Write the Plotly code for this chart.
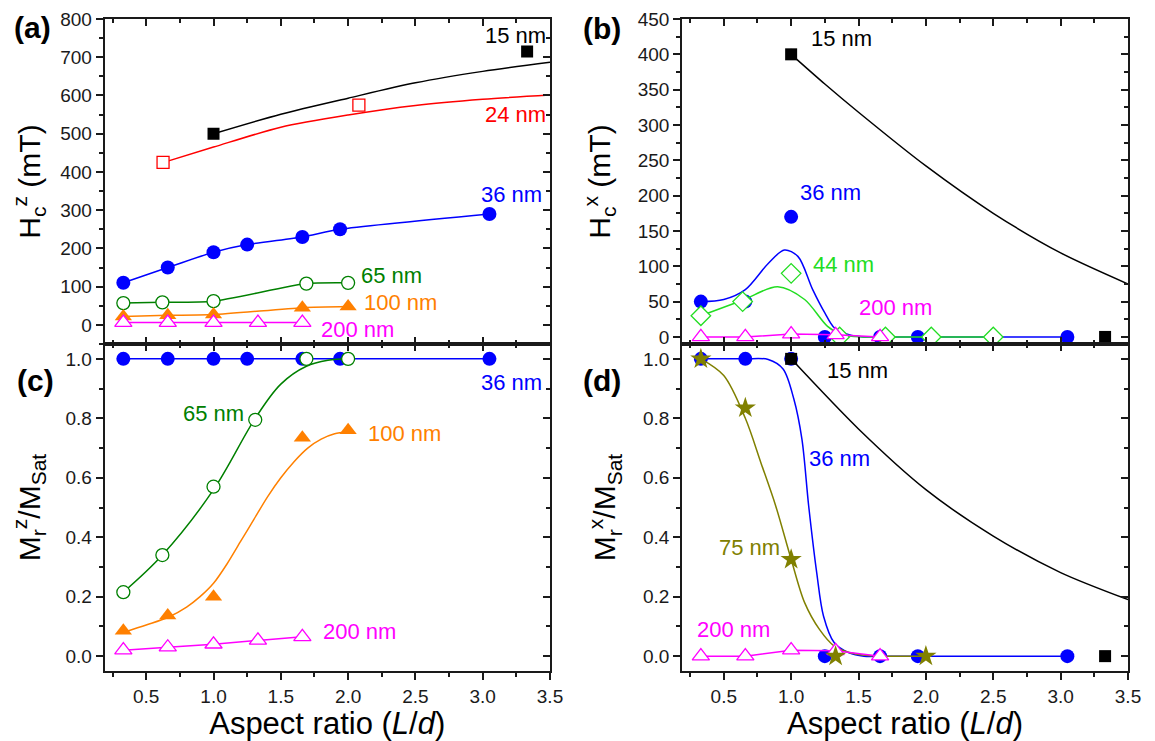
import plotly.graph_objects as go

FONT = "Liberation Sans, Arial, sans-serif"
# the page body keeps an 8 px default margin, so the figure is drawn 8 px in;
# its size and positions are given in screen pixels and shifted back by that margin
OFF = 8
W, H = 1155 - OFF, 741 - OFF

BLUE = "#0000FF"
RED = "#FF0000"
DGREEN = "#008000"
LGREEN = "#22DD22"
ORANGE = "#FF8000"
MAGENTA = "#FF00FF"
OLIVE = "#808000"
BLACK = "#000000"

# ---------------- Panel (a): Hc^z (mT) ----------------
a15_x = [1.0, 3.33]
a15_y = [500, 715]
a15_fit_x = [1.0, 1.5, 2.0, 2.5, 3.0, 3.5]
a15_fit_y = [500, 551, 593, 633, 663, 687]

a24_x = [0.625, 2.08]
a24_y = [425, 575]
a24_fit_x = [0.63, 1.0, 1.5, 2.0, 2.5, 3.0, 3.5]
a24_fit_y = [425, 465, 517, 549, 574, 590, 601]

a36_x = [0.33, 0.66, 1.0, 1.25, 1.66, 1.94, 3.05]
a36_y = [110, 150, 190, 210, 230, 250, 290]

a65_x = [0.33, 0.62, 1.0, 1.69, 2.0]
a65_y = [57, 59, 62, 108, 110]

a100_x = [0.33, 0.66, 1.0, 1.66, 2.0]
a100_y = [22, 25, 27, 45, 48]

a200_x = [0.33, 0.66, 1.0, 1.33, 1.66]
a200_y = [6, 6, 6, 6, 6]
a200_err = [9, 9, 9, 9, 9]

# ---------------- Panel (b): Hc^x (mT) ----------------
b15_x = [1.0, 3.33]
b15_y = [400, 0]
b15_err = [8, 0]
b15_fit_x = [1.0, 1.25, 1.5, 2.0, 2.5, 3.0, 3.5]
b15_fit_y = [400, 358, 318, 242, 175, 119, 75]

b36_x = [0.33, 0.66, 1.0, 1.25, 1.66, 1.94, 3.05]
b36_y = [50, 50, 170, 0, 0, 0, 0]
b36_fit_x = [0.33, 0.5, 0.66, 0.83, 0.95, 1.05, 1.16, 1.25, 1.32, 1.43, 1.54, 1.7, 2.0, 2.5, 3.05]
b36_fit_y = [50, 53, 67, 104, 123, 114, 67, 34, 13, 3, 0, 0, 0, 0, 0]

b44_x = [0.33, 0.64, 1.0, 1.36, 1.70, 2.04, 2.5]
b44_y = [30, 50, 90, 0, 0, 0, 0]
b44_fit_x = [0.33, 0.64, 0.9, 1.1, 1.27, 1.38, 1.54, 1.7, 2.0, 2.5]
b44_fit_y = [30, 52, 71, 53, 15, 3, 0, 0, 0, 0]

b200_x = [0.33, 0.66, 1.0, 1.33, 1.66]
b200_y = [0, 0, 4, 3, 0]

# ---------------- Panel (c): Mr^z / Msat ----------------
c36_x = [0.33, 0.66, 1.0, 1.25, 1.66, 1.94, 3.05]
c36_y = [1.0, 1.0, 1.0, 1.0, 1.0, 1.0, 1.0]

c65_x = [0.33, 0.62, 1.0, 1.31, 1.69, 2.0]
c65_y = [0.215, 0.34, 0.57, 0.795, 1.0, 1.0]
c65_fit_x = [0.33, 0.62, 1.0, 1.31, 1.5, 1.69, 1.85, 2.0]
c65_fit_y = [0.215, 0.34, 0.56, 0.80, 0.915, 0.975, 0.995, 1.0]

c100_x = [0.33, 0.66, 1.0, 1.66, 2.0]
c100_y = [0.085, 0.137, 0.20, 0.735, 0.76]
c100_fit_x = [0.33, 0.5, 0.66, 0.8, 0.9, 1.0, 1.1, 1.2, 1.3, 1.4, 1.5, 1.6, 1.7, 1.8, 1.9, 2.0]
c100_fit_y = [0.08, 0.105, 0.13, 0.165, 0.20, 0.245, 0.31, 0.385, 0.46, 0.535, 0.60, 0.655, 0.70, 0.73, 0.748, 0.755]

c200_x = [0.33, 0.66, 1.0, 1.33, 1.66]
c200_y = [0.02, 0.03, 0.04, 0.053, 0.065]

# ---------------- Panel (d): Mr^x / Msat ----------------
d15_x = [1.0, 3.33]
d15_y = [1.0, 0.0]
d15_fit_x = [1.0, 1.5, 2.0, 2.5, 3.0, 3.5]
d15_fit_y = [1.0, 0.764, 0.56, 0.404, 0.281, 0.19]

d36_x = [0.33, 0.66, 1.0, 1.25, 1.66, 1.94, 3.05]
d36_y = [1.0, 1.0, 1.0, 0.0, 0.0, 0.0, 0.0]
d36_fit_x = [0.33, 0.5, 0.66, 0.83, 0.94, 1.02, 1.08, 1.13, 1.19, 1.24, 1.32, 1.43, 1.54, 1.7, 2.0, 2.5, 3.05]
d36_fit_y = [1.0, 1.0, 1.0, 0.998, 0.966, 0.865, 0.73, 0.506, 0.28, 0.135, 0.045, 0.011, 0.0, 0.0, 0.0, 0.0, 0.0]

d75_x = [0.33, 0.66, 1.0, 1.33, 2.0]
d75_y = [1.0, 0.835, 0.325, 0.0, 0.0]
d75_fit_x = [0.33, 0.5, 0.66, 0.776, 0.885, 1.0, 1.10, 1.21, 1.32, 1.49, 1.68, 1.85, 2.0]
d75_fit_y = [1.0, 0.944, 0.80, 0.65, 0.506, 0.326, 0.18, 0.09, 0.034, 0.006, 0.0, 0.0, 0.0]

d200_x = [0.33, 0.66, 1.0, 1.33, 1.66]
d200_y = [0.0, 0.0, 0.02, 0.018, 0.0]

# ---------------- helpers ----------------
fig = go.Figure()

AX = {1: ("x", "y"), 2: ("x2", "y2"), 3: ("x3", "y3"), 4: ("x4", "y4")}


def curve(p, xs, ys, color, smooth=0.8, width=1.5):
    xa, ya = AX[p]
    fig.add_trace(go.Scatter(x=xs, y=ys, mode="lines", xaxis=xa, yaxis=ya,
                             line=dict(color=color, width=width, shape="spline", smoothing=smooth),
                             showlegend=False, hoverinfo="skip"))


def marks(p, xs, ys, color, symbol, size, filled=True, line=False, smooth=0.8, err=None, errcolor=None):
    xa, ya = AX[p]
    mk = dict(symbol=symbol, size=size)
    if filled:
        mk.update(color=color, line=dict(width=0))
    else:
        mk.update(color="white", line=dict(color=color, width=1.3))
    kw = {}
    if err is not None:
        kw["error_y"] = dict(type="data", array=err, color=errcolor or color, thickness=1.2, width=0)
    fig.add_trace(go.Scatter(x=xs, y=ys, mode="lines+markers" if line else "markers",
                             xaxis=xa, yaxis=ya, marker=mk,
                             line=dict(color=color, width=1.5, shape="spline", smoothing=smooth),
                             showlegend=False, hoverinfo="skip", **kw))


# Panel (a)
marks(1, a36_x, a36_y, BLUE, "circle", 14, line=True, smooth=0.6)
marks(1, a65_x, a65_y, DGREEN, "circle", 13, filled=False, line=True, smooth=0.6)
marks(1, a100_x, a100_y, ORANGE, "triangle-up", 15, line=True, smooth=0.6)
marks(1, a200_x, a200_y, MAGENTA, "triangle-up", 15, filled=False, line=True, smooth=0.6, err=a200_err)
curve(1, a24_fit_x, a24_fit_y, RED)
marks(1, a24_x, a24_y, RED, "square", 12, filled=False)
curve(1, a15_fit_x, a15_fit_y, BLACK)
marks(1, a15_x, a15_y, BLACK, "square", 12)

# Panel (b)
curve(2, b36_fit_x, b36_fit_y, BLUE, smooth=0.9)
marks(2, b36_x, b36_y, BLUE, "circle", 14)
curve(2, b44_fit_x, b44_fit_y, LGREEN, smooth=0.9)
marks(2, b44_x, b44_y, LGREEN, "diamond", 15, filled=False)
marks(2, b200_x, b200_y, MAGENTA, "triangle-up", 15, filled=False, line=True, smooth=0)
curve(2, b15_fit_x, b15_fit_y, BLACK)
marks(2, b15_x, b15_y, BLACK, "square", 12, err=b15_err, errcolor="#888888")

# Panel (c)
marks(3, c36_x, c36_y, BLUE, "circle", 14, line=True)
curve(3, c65_fit_x, c65_fit_y, DGREEN, smooth=1.0)
marks(3, c65_x, c65_y, DGREEN, "circle", 13, filled=False)
curve(3, c100_fit_x, c100_fit_y, ORANGE, smooth=0.8)
marks(3, c100_x, c100_y, ORANGE, "triangle-up", 15)
marks(3, c200_x, c200_y, MAGENTA, "triangle-up", 15, filled=False, line=True, smooth=0)

# Panel (d)
curve(4, d36_fit_x, d36_fit_y, BLUE, smooth=0.9)
marks(4, d36_x, d36_y, BLUE, "circle", 14)
curve(4, d75_fit_x, d75_fit_y, OLIVE, smooth=0.9)
marks(4, d200_x, d200_y, MAGENTA, "triangle-up", 15, filled=False, line=True, smooth=0)
marks(4, d75_x, d75_y, OLIVE, "star", 16)
curve(4, d15_fit_x, d15_fit_y, BLACK)
marks(4, d15_x, d15_y, BLACK, "square", 12)

# dummy traces to register overlay (mirror-tick) axes
for p in range(1, 5):
    xa, ya = AX[p]
    fig.add_trace(go.Scatter(x=[None], y=[None], xaxis=f"x{p+4}", yaxis=ya, showlegend=False, hoverinfo="skip"))
    fig.add_trace(go.Scatter(x=[None], y=[None], xaxis=xa, yaxis=f"y{p+4}", showlegend=False, hoverinfo="skip"))

# ---------------- axes ----------------
LINEC = "#1a1a1a"
TICKF = dict(size=19, family=FONT, color="#1a1a1a")
TITLEF = dict(size=30, family=FONT, color="#000000")


def sx(px):
    return (px - OFF) / W


def sy(py):
    return 1 - (py - OFF) / H


XL = [sx(104.5), sx(550)]
XR = [sx(682), sx(1128)]
YT = [sy(344), sy(19)]
YB = [sy(671), sy(344)]
XRANGE = [0.19, 3.5]

panels = {
    1: dict(xd=XL, yd=YT, yr=[-50, 800], ydt=100, ymin=50, yfmt="d", xlab=False,
            ytitle="H<sub>c</sub><sup>z</sup> (mT)"),
    2: dict(xd=XR, yd=YT, yr=[-10, 450], ydt=50, ymin=25, yfmt="d", xlab=False,
            ytitle="H<sub>c</sub><sup>x</sup> (mT)"),
    3: dict(xd=XL, yd=YB, yr=[-0.05, 1.05], ydt=0.2, ymin=0.1, yfmt=".1f", xlab=True,
            ytitle="M<sub>r</sub><sup>z</sup>/M<sub>Sat</sub>"),
    4: dict(xd=XR, yd=YB, yr=[-0.05, 1.05], ydt=0.2, ymin=0.1, yfmt=".1f", xlab=True,
            ytitle="M<sub>r</sub><sup>x</sup>/M<sub>Sat</sub>"),
}

layout = {}
for p, c in panels.items():
    xk = "xaxis" if p == 1 else f"xaxis{p}"
    yk = "yaxis" if p == 1 else f"yaxis{p}"
    xa, ya = AX[p]
    xticks = "outside" if c["xlab"] else "inside"
    layout[xk] = dict(
        domain=c["xd"], anchor=ya, range=XRANGE, tick0=0.5, dtick=0.5, tickformat=".1f",
        ticks=xticks, ticklen=7, tickwidth=1.5, tickcolor=LINEC,
        showticklabels=c["xlab"], tickfont=TICKF, automargin=False,
        showline=True, linewidth=1.6, linecolor=LINEC, mirror=True,
        showgrid=False, zeroline=False,
        minor=dict(ticks=xticks, ticklen=4, tickwidth=1.5, tickcolor=LINEC, tick0=0.25, dtick=0.25, showgrid=False),
        title=dict(text="Aspect ratio (<i>L</i>/<i>d</i>)", font=dict(size=31, family=FONT, color="#000"),
                   standoff=2) if c["xlab"] else None,
    )
    layout[yk] = dict(
        domain=c["yd"], anchor=xa, range=c["yr"], tick0=0, dtick=c["ydt"], tickformat=c["yfmt"],
        ticks="outside", ticklen=7, tickwidth=1.5, tickcolor=LINEC, tickfont=TICKF, automargin=False,
        showline=True, linewidth=1.6, linecolor=LINEC, mirror=True,
        showgrid=False, zeroline=False,
        minor=dict(ticks="outside", ticklen=4, tickwidth=1.5, tickcolor=LINEC, tick0=0, dtick=c["ymin"], showgrid=False),
        title=dict(text=c["ytitle"], font=TITLEF, standoff=18),
    )
    # mirrored inward ticks: top x and right y
    layout[f"xaxis{p+4}"] = dict(
        domain=c["xd"], overlaying=xa, side="top", anchor=ya, range=XRANGE, tick0=0.5, dtick=0.5,
        ticks="inside", ticklen=7, tickwidth=1.5, tickcolor=LINEC, showticklabels=False, automargin=False,
        showline=False, showgrid=False, zeroline=False,
        minor=dict(ticks="inside", ticklen=4, tickwidth=1.5, tickcolor=LINEC, tick0=0.25, dtick=0.25, showgrid=False),
    )
    layout[f"yaxis{p+4}"] = dict(
        domain=c["yd"], overlaying=ya, side="right", anchor=xa, range=c["yr"], tick0=0, dtick=c["ydt"],
        ticks="inside", ticklen=7, tickwidth=1.5, tickcolor=LINEC, showticklabels=False, automargin=False,
        showline=False, showgrid=False, zeroline=False,
        minor=dict(ticks="inside", ticklen=4, tickwidth=1.5, tickcolor=LINEC, tick0=0, dtick=c["ymin"], showgrid=False),
    )

# ---------------- annotations ----------------
ANNF = 22
labels = [
    (1, "15 nm", 3.0, 757, BLACK), (1, "24 nm", 3.0, 550, RED), (1, "36 nm", 2.97, 341, BLUE),
    (1, "65 nm", 2.08, 130, DGREEN), (1, "100 nm", 2.10, 58, ORANGE), (1, "200 nm", 1.78, -11, MAGENTA),
    (2, "15 nm", 1.13, 422, BLACK), (2, "36 nm", 1.05, 205, BLUE), (2, "44 nm", 1.15, 102, LGREEN),
    (2, "200 nm", 1.49, 41, MAGENTA),
    (3, "65 nm", 0.755, 0.815, DGREEN), (3, "100 nm", 2.13, 0.75, ORANGE), (3, "36 nm", 2.97, 0.92, BLUE),
    (3, "200 nm", 1.80, 0.084, MAGENTA),
    (4, "15 nm", 1.25, 0.96, BLACK), (4, "36 nm", 1.12, 0.665, BLUE), (4, "75 nm", 0.45, 0.365, OLIVE),
    (4, "200 nm", 0.29, 0.09, MAGENTA),
]
ann = []
for p, t, x, y, col in labels:
    xa, ya = AX[p]
    ann.append(dict(text=t, x=x, y=y, xref=xa, yref=ya, xanchor="left", yanchor="middle",
                    showarrow=False, font=dict(size=ANNF, color=col, family=FONT)))

for t, px, py in [("(a)", 12, 27), ("(b)", 581, 29), ("(c)", 15, 380), ("(d)", 581, 380)]:
    ann.append(dict(text=f"<b>{t}</b>", x=sx(px), y=sy(py), xref="paper", yref="paper",
                    xanchor="left", yanchor="middle", showarrow=False,
                    font=dict(size=30, color=BLACK, family=FONT)))

fig.update_layout(
    template="none",
    width=W, height=H, margin=dict(l=0, r=0, t=0, b=0, autoexpand=False),
    paper_bgcolor="white", plot_bgcolor="white",
    font=dict(family=FONT, color="#000"),
    annotations=ann, showlegend=False,
    **layout,
)

fig.write_html("out.html")
